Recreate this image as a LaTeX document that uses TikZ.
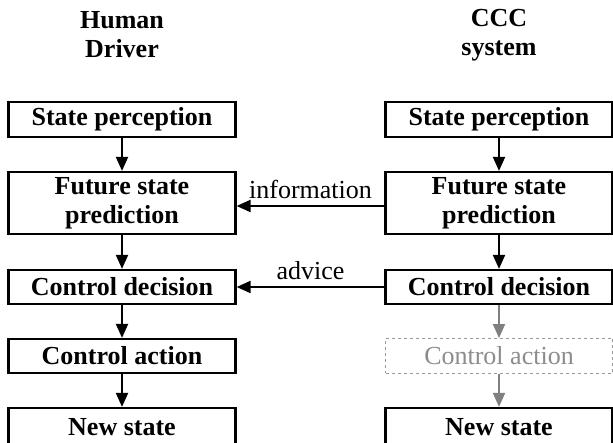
\documentclass[tikz,border=0pt]{standalone}
\usepackage{fontspec}
\setmainfont{Liberation Serif}
\usetikzlibrary{arrows.meta}
\begin{document}
\begin{tikzpicture}[x=1pt,y=-1pt,
  box/.style={draw=black, line width=2.2pt, minimum width=227pt, inner sep=0pt, align=center,
    font=\fontsize{26}{29}\selectfont\bfseries},
  dbox/.style={draw=black!40, dashed, line width=0.9pt, minimum width=227pt, minimum height=35pt, inner sep=0pt,
    text=black!45, font=\fontsize{26}{29}\selectfont},
  title/.style={align=center, inner sep=0pt, font=\fontsize{26}{29}\selectfont\bfseries},
  lab/.style={inner sep=0pt, font=\fontsize{26}{29}\selectfont},
  arr/.style={line width=2pt, -{Triangle[length=14pt,width=12pt]}},
  garr/.style={draw=black!50, line width=2pt, -{Triangle[length=14pt,width=12pt,fill=black!50]}}]
\useasboundingbox (0,0) rectangle (613,443);
\clip (0,0) rectangle (613,443);
% titles
\node[title] (tH) at (122,35) {Human\\Driver};
\node[title] (tC) at (499,35) {CCC\\system};
% left column
\node[box, minimum height=35pt] (spL) at (122,119.5) {State perception};
\node[box, minimum height=62pt] (fpL) at (122,203) {Future state\\prediction};
\node[box, minimum height=34pt] (cdL) at (122,287) {Control decision};
\node[box, minimum height=34pt] (caL) at (122,356) {Control action};
\node[box, minimum height=40pt] (nsL) at (122,428) {\raisebox{2pt}{New state}};
% right column
\node[box, minimum height=35pt] (spR) at (499,119.5) {State perception};
\node[box, minimum height=62pt] (fpR) at (499,203) {Future state\\prediction};
\node[box, minimum height=34pt] (cdR) at (499,287) {Control decision};
\node[dbox] (caR) at (499,356) {Control action};
\node[box, minimum height=40pt] (nsR) at (499,428) {\raisebox{2pt}{New state}};
% vertical arrows
\draw[arr] (spL) -- (fpL);
\draw[arr] (fpL) -- (cdL);
\draw[arr] (cdL) -- (caL);
\draw[arr] (caL) -- (nsL);
\draw[arr] (spR) -- (fpR);
\draw[arr] (fpR) -- (cdR);
\draw[garr] (cdR) -- (caR);
\draw[garr] (caR) -- (nsR);
% horizontal arrows
\draw[arr] ([yshift=-3pt]fpR.west) -- ([yshift=-3pt]fpL.east) node[lab, midway, above=6pt] (info) {information};
\draw[arr] (cdR.west) -- (cdL.east) node[lab, midway, above=6pt] (adv) {advice};
\end{tikzpicture}
\end{document}
